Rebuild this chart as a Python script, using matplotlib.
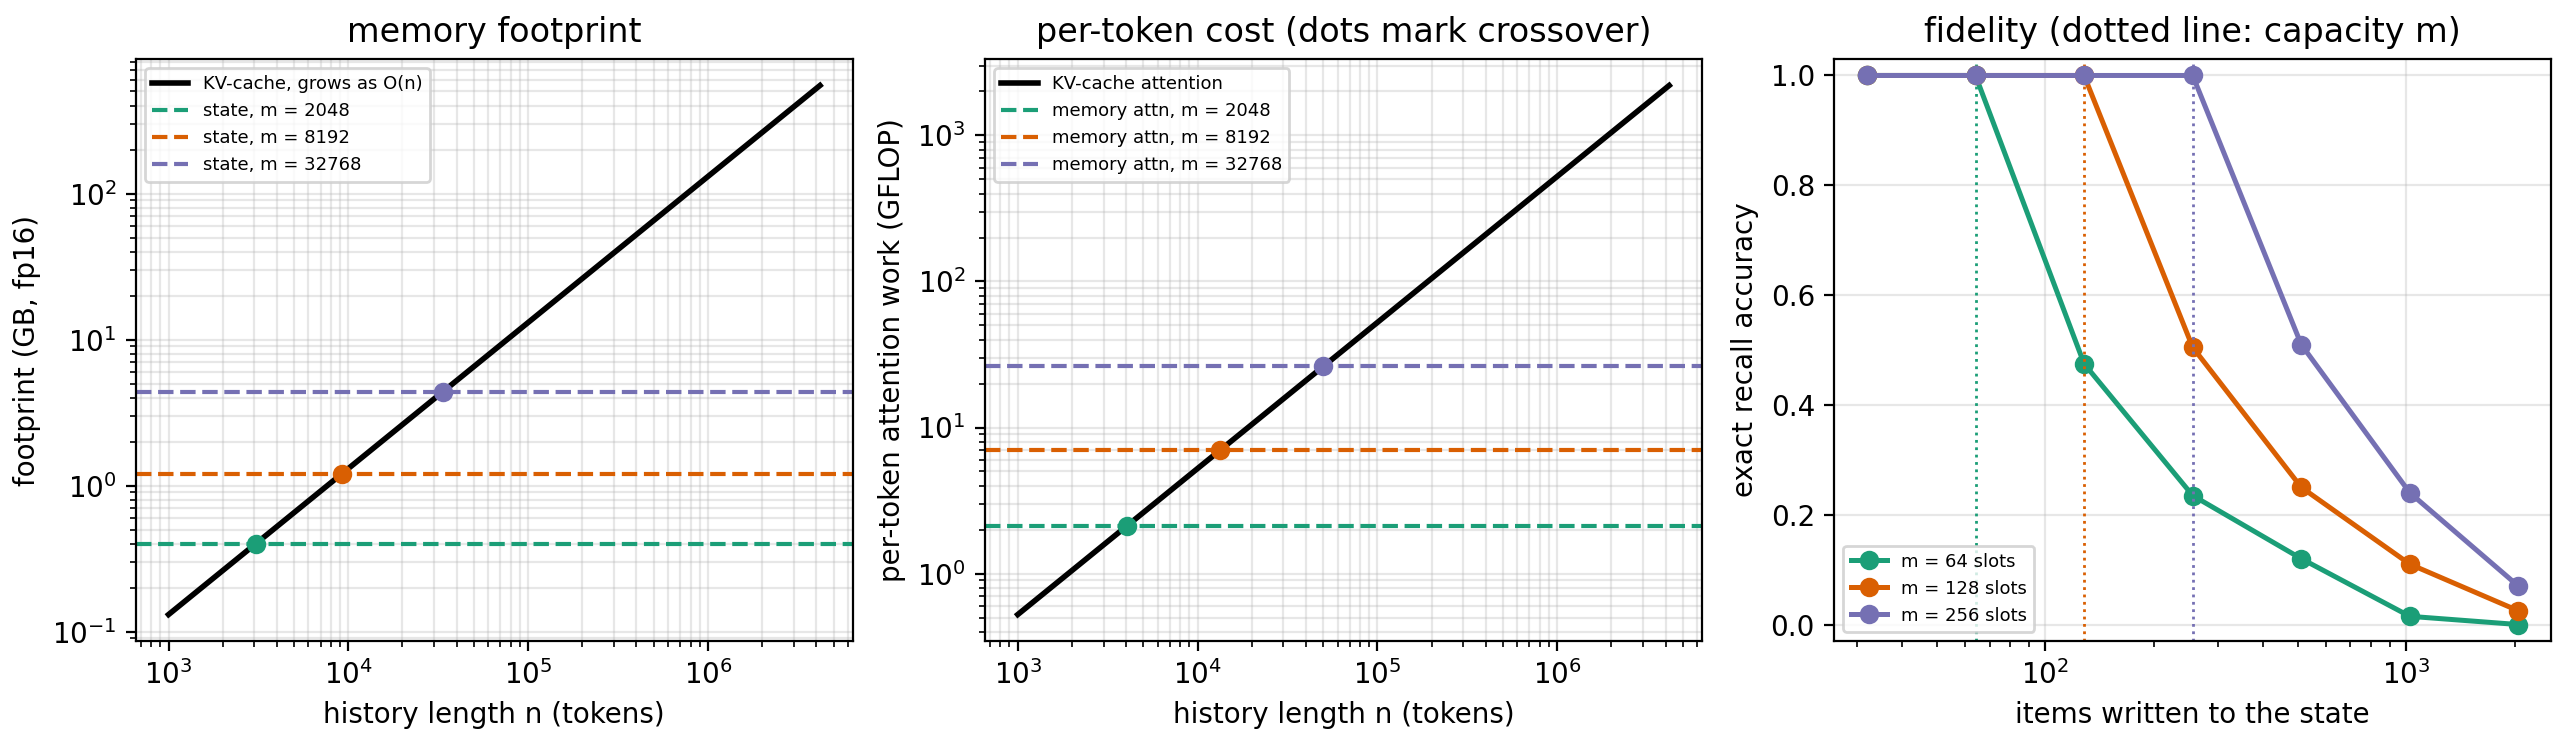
import numpy as np
import matplotlib
matplotlib.use("Agg")
import matplotlib.pyplot as plt

colors = ["#1b9e77", "#d95f02", "#7570b3"]

# panel 1 / 2: history length sweep
n_hist = [1e3, 4194304]
kv_footprint = [0.131, 549.8]          # GB, fp16
kv_attn_work = [0.524, 2199.0]         # GFLOP per token
mem_sizes = [2048, 8192, 32768]
state_footprint = [0.40, 1.21, 4.40]   # GB
mem_attn_work = [2.12, 7.0, 26.2]      # GFLOP
cross_footprint = [3050, 9200, 33600]
cross_work = [4050, 13400, 50000]

# panel 3: recall fidelity
items = [32, 64, 128, 256, 512, 1024, 2048]
slots = [64, 128, 256]
acc_64 = [1.0, 1.0, 0.475, 0.235, 0.12, 0.015, 0.0]
acc_128 = [1.0, 1.0, 1.0, 0.505, 0.25, 0.11, 0.025]
acc_256 = [1.0, 1.0, 1.0, 1.0, 0.51, 0.24, 0.07]
acc = [acc_64, acc_128, acc_256]

fig, axes = plt.subplots(1, 3, figsize=(12.85, 3.72), dpi=200)
fig.subplots_adjust(left=0.0529, right=0.9926, top=0.9207, bottom=0.1384, wspace=0.185)

# memory footprint
ax = axes[0]
ax.plot(n_hist, kv_footprint, color="black", lw=2, label="KV-cache, grows as O(n)")
for m, s, xc, c in zip(mem_sizes, state_footprint, cross_footprint, colors):
    ax.axhline(s, color=c, ls="--", lw=1.5, label=f"state, m = {m}")
    ax.plot([xc], [s], "o", color=c, ms=6, zorder=5)
ax.set_xscale("log")
ax.set_yscale("log")
ax.set_xlabel("history length n (tokens)")
ax.set_ylabel("footprint (GB, fp16)")
ax.set_title("memory footprint")
ax.grid(True, which="both", alpha=0.3)
ax.legend(loc="upper left", fontsize=6.5)

# per-token cost
ax = axes[1]
ax.plot(n_hist, kv_attn_work, color="black", lw=2, label="KV-cache attention")
for m, w, xc, c in zip(mem_sizes, mem_attn_work, cross_work, colors):
    ax.axhline(w, color=c, ls="--", lw=1.5, label=f"memory attn, m = {m}")
    ax.plot([xc], [w], "o", color=c, ms=6, zorder=5)
ax.set_xscale("log")
ax.set_yscale("log")
ax.set_xlabel("history length n (tokens)")
ax.set_ylabel("per-token attention work (GFLOP)")
ax.set_title("per-token cost (dots mark crossover)")
ax.grid(True, which="both", alpha=0.3)
ax.legend(loc="upper left", fontsize=6.5)

# fidelity
ax = axes[2]
for m, a, c in zip(slots, acc, colors):
    ax.plot(items, a, "o-", color=c, lw=1.8, ms=6, label=f"m = {m} slots")
    ax.axvline(m, color=c, ls=":", lw=1)
ax.set_xscale("log")
ax.set_ylim(-0.03, 1.03)
ax.set_xlabel("items written to the state")
ax.set_ylabel("exact recall accuracy")
ax.set_title("fidelity (dotted line: capacity m)")
ax.grid(True, alpha=0.3)
ax.legend(loc="lower left", fontsize=6.5)

plt.savefig("out.png", dpi=200)
